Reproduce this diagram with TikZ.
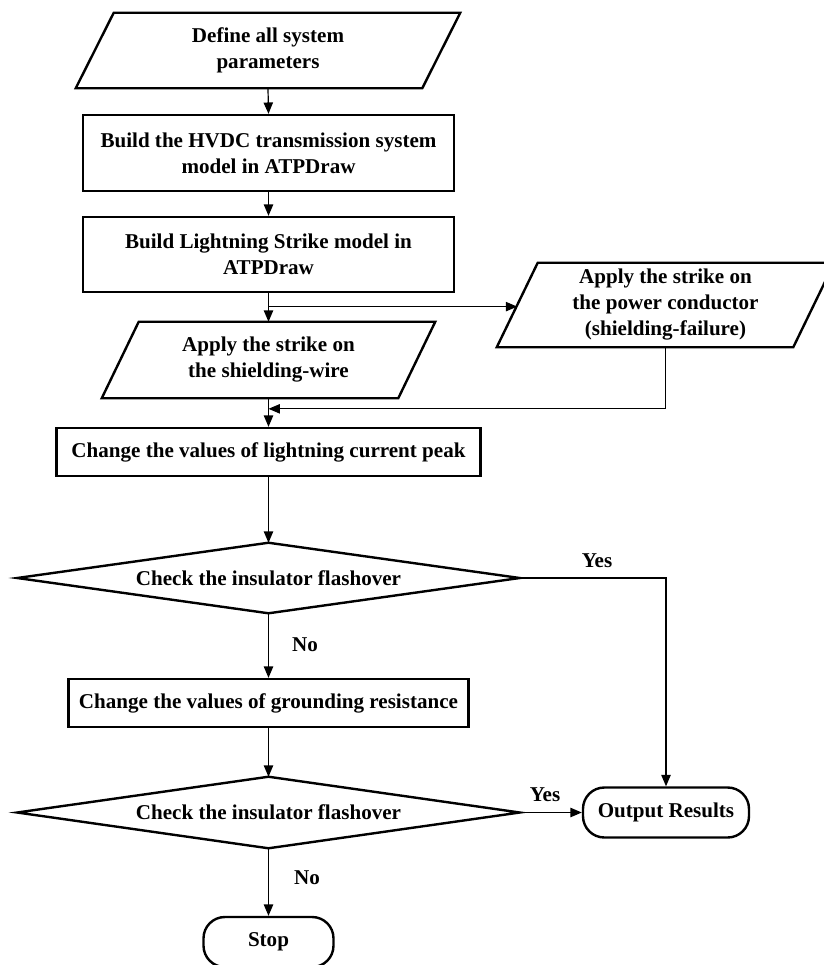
\documentclass[tikz,border=0pt]{standalone}
\usepackage{fontspec}
\setmainfont{Liberation Serif}
\usetikzlibrary{arrows.meta,calc}
\def\upx{0.75pt}
\begin{document}
\begin{tikzpicture}[x=0.75pt,y=-0.75pt,
  txt/.style={font=\bfseries\fontsize{15.8}{19.5}\selectfont, align=center, inner sep=0pt},
  box/.style={txt, draw, line width=1.8pt},
  ghost/.style={txt, draw=none},
  term/.style={txt, draw, line width=1.8pt, rounded corners=16pt},
  outline/.style={line width=1.8pt, line join=miter},
  conn/.style={line width=0.9pt, -{Triangle[length=8.5pt,width=7pt]}},
  lbl/.style={font=\bfseries\fontsize{15.8}{19.5}\selectfont, inner sep=0pt}]
\useasboundingbox (0,0) rectangle (824,965);
\clip (0,0) rectangle (824,965);
\fill[white] (0,0) rectangle (824,965);

% input: define parameters
\node[ghost, minimum width=346*\upx, minimum height=75*\upx] (p1) at (268,50.5) {Define all system\\parameters};
\draw[outline] ($(p1.south west)+(-19,0)$) -- ($(p1.north west)+(19,0)$) -- ($(p1.north east)+(19,0)$) -- ($(p1.south east)+(-19,0)$) -- cycle;

\node[box, minimum width=371*\upx, minimum height=76*\upx] (b2) at (268.5,153) {Build the HVDC transmission system\\model in ATPDraw};
\node[box, minimum width=371*\upx, minimum height=75*\upx] (b3) at (268.5,254.5) {Build Lightning Strike model in\\ATPDraw};

% shielding wire
\node[ghost, minimum width=296*\upx, minimum height=76*\upx] (p4) at (268.5,360) {Apply the strike on\\the shielding-wire};
\draw[outline] ($(p4.south west)+(-18.5,0)$) -- ($(p4.north west)+(18.5,0)$) -- ($(p4.north east)+(18.5,0)$) -- ($(p4.south east)+(-18.5,0)$) -- cycle;

% power conductor
\node[ghost, minimum width=296*\upx, minimum height=84*\upx] (pr) at (665.5,305) {Apply the strike on\\the power conductor\\(shielding-failure)};
\draw[outline] ($(pr.south west)+(-20.5,0)$) -- ($(pr.north west)+(20.5,0)$) -- ($(pr.north east)+(20.5,0)$) -- ($(pr.south east)+(-20.5,0)$) -- cycle;

\node[box, minimum width=424*\upx, minimum height=48*\upx] (b5) at (268.5,452) {Change the values of lightning current peak};

\node[ghost, minimum width=502*\upx, minimum height=70*\upx] (d1) at (268.5,578) {Check the insulator flashover};
\draw[outline] (d1.west) -- (d1.north) -- (d1.east) -- (d1.south) -- cycle;

\node[box, minimum width=400*\upx, minimum height=48*\upx] (b6) at (268.5,703) {Change the values of grounding resistance};

\node[ghost, minimum width=502*\upx, minimum height=71*\upx] (d2) at (268.5,812.5) {Check the insulator flashover};
\draw[outline] (d2.west) -- (d2.north) -- (d2.east) -- (d2.south) -- cycle;

\node[term, minimum width=166*\upx, minimum height=50*\upx] (out) at (666,812.5) {Output Results};
\node[term, minimum width=130*\upx, minimum height=50*\upx] (stop) at (268.5,942) {Stop};

% connectors
\draw[conn] (p1.south) -- (b2.north);
\draw[conn] (b2.south) -- (b3.north);
\draw[conn] (b3.south) -- (p4.north);
\coordinate (br) at ($(b3.south)!0.47!(p4.north)$);
\draw[conn] (br) -- (br -| pr.west);
\coordinate (mg) at ($(p4.south)!0.37!(b5.north)$);
\draw[conn] (pr.south) |- (mg);
\draw[conn] (p4.south) -- (b5.north);
\draw[conn] (b5.south) -- (d1.north);
\draw[conn] (d1.east) -| (out.north);
\draw[conn] (d1.south) -- (b6.north);
\draw[conn] (b6.south) -- (d2.north);
\draw[conn] (d2.east) -- (out.west);
\draw[conn] (d2.south) -- (stop.north);

% labels
\node[lbl] (y1) at (597,561) {Yes};
\node[lbl] (n1) at (305,645) {No};
\node[lbl] (y2) at (545,795) {Yes};
\node[lbl] (n2) at (307,878) {No};
\end{tikzpicture}
\end{document}
